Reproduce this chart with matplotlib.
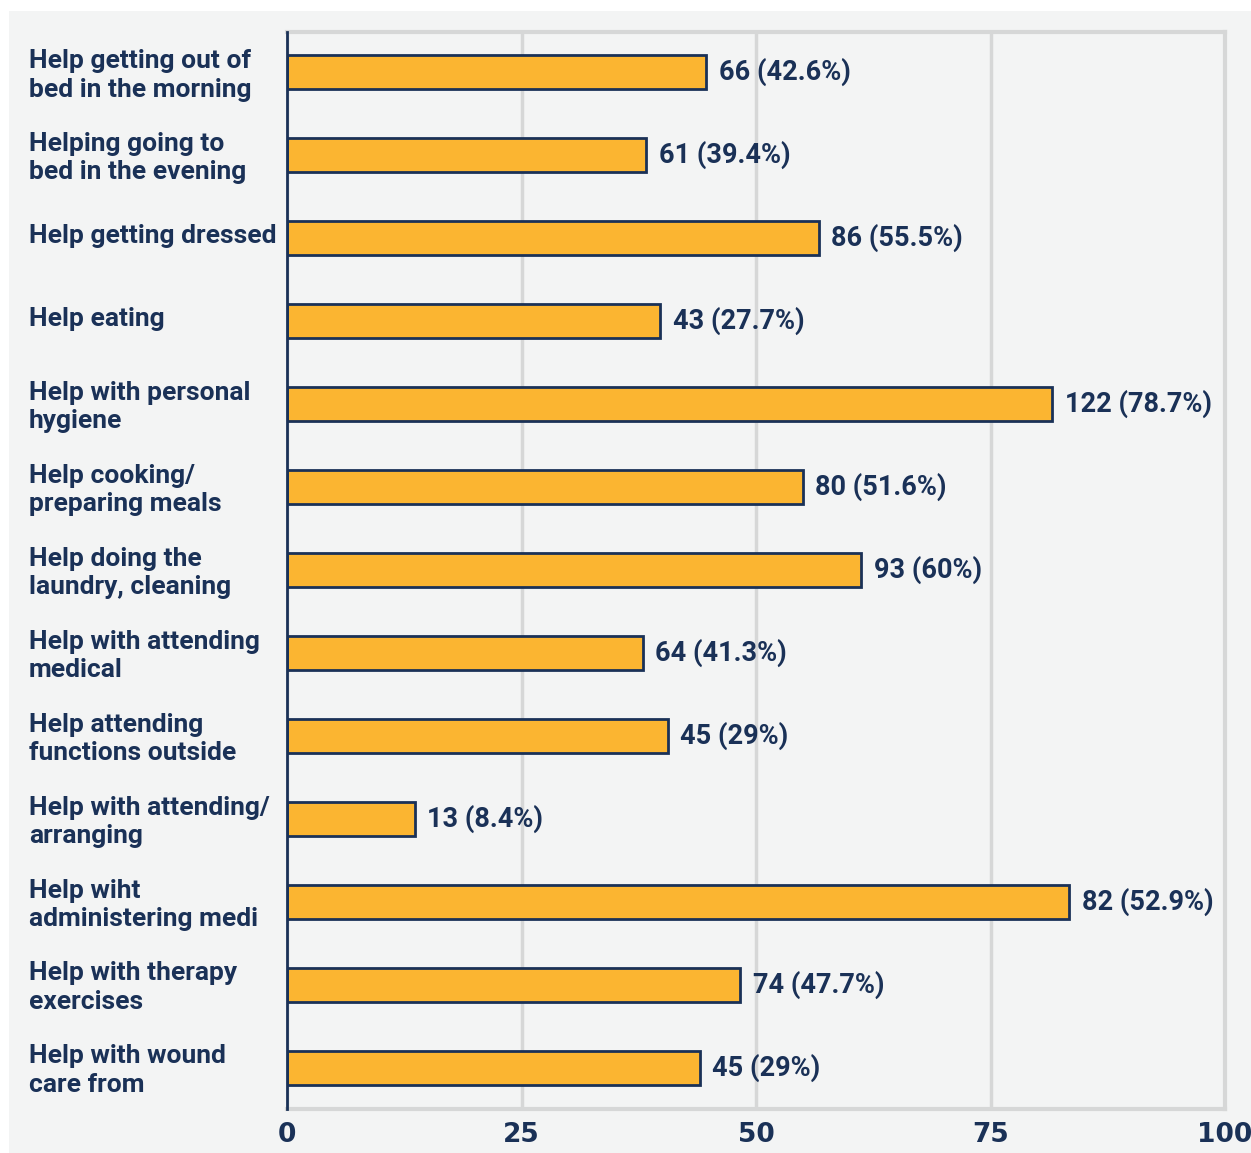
import matplotlib.pyplot as plt
import matplotlib.transforms as mtransforms
from matplotlib.patches import Rectangle

categories = [
    "Help getting out of\nbed in the morning",
    "Helping going to\nbed in the evening",
    "Help getting dressed",
    "Help eating",
    "Help with personal\nhygiene",
    "Help cooking/\npreparing meals",
    "Help doing the\nlaundry, cleaning",
    "Help with attending\nmedical",
    "Help attending\nfunctions outside",
    "Help with attending/\narranging",
    "Help wiht\nadministering medi",
    "Help with therapy\nexercises",
    "Help with wound\ncare from",
]
# bar lengths as drawn in the picture
bar_values = [44.7, 38.3, 56.7, 39.8, 81.6, 55.0, 61.2, 37.9, 40.6, 13.6, 83.4, 48.3, 44.0]
value_labels = ["66 (42.6%)", "61 (39.4%)", "86 (55.5%)", "43 (27.7%)", "122 (78.7%)",
                "80 (51.6%)", "93 (60%)", "64 (41.3%)", "45 (29%)", "13 (8.4%)",
                "82 (52.9%)", "74 (47.7%)", "45 (29%)"]
x_ticks = [0, 25, 50, 75, 100]

navy = "#1a3157"
gold = "#fbb531"
bg = "#f3f4f4"
grid = "#d6d7d7"

fig = plt.figure(figsize=(12.51, 11.53), dpi=100)
fig.patch.set_facecolor("white")
fig.patches.append(Rectangle((9 / 1251, 0), 1 - 9 / 1251, 1 - 11 / 1153,
                             transform=fig.transFigure, facecolor=bg, edgecolor="none", zorder=-10))

ax = fig.add_axes([287 / 1251, 44 / 1153, 938 / 1251, 1077 / 1153])
ax.set_facecolor(bg)

y = list(range(len(categories)))
ax.barh(y, bar_values, height=0.41, color=gold, edgecolor=navy, linewidth=2, zorder=3)

ax.set_xlim(0, 100)
ax.set_ylim(12.5, -0.48)
ax.set_xticks(x_ticks)
ax.set_xticklabels([str(t) for t in x_ticks], fontfamily="Liberation Sans Narrow",
                   fontweight="bold", fontsize=19, color=navy)
ax.tick_params(axis="x", length=0, pad=9)
ax.set_yticks([])
ax.grid(axis="x", color=grid, linewidth=2.5, zorder=0)
ax.set_axisbelow(True)

for side in ["top", "right", "bottom"]:
    ax.spines[side].set_color(grid)
    ax.spines[side].set_linewidth(3)
ax.spines["left"].set_color(navy)
ax.spines["left"].set_linewidth(2)
ax.spines["left"].set_zorder(4)

trans = mtransforms.blended_transform_factory(fig.transFigure, ax.transData)
for i, cat in enumerate(categories):
    shift = 0.04 if "\n" in cat else -0.02
    ax.text(29 / 1251, i + shift, cat, transform=trans, ha="left", va="center",
            fontfamily="Roboto", fontweight="bold", fontsize=19, color=navy,
            linespacing=1.25)

for i, (v, lab) in enumerate(zip(bar_values, value_labels)):
    ax.annotate(lab, (v, i), xytext=(9, 0), textcoords="offset points",
                ha="left", va="center", fontfamily="Roboto", fontweight="bold",
                fontsize=19.5, color=navy)

fig.savefig("out.png", dpi=100, facecolor=fig.get_facecolor())
